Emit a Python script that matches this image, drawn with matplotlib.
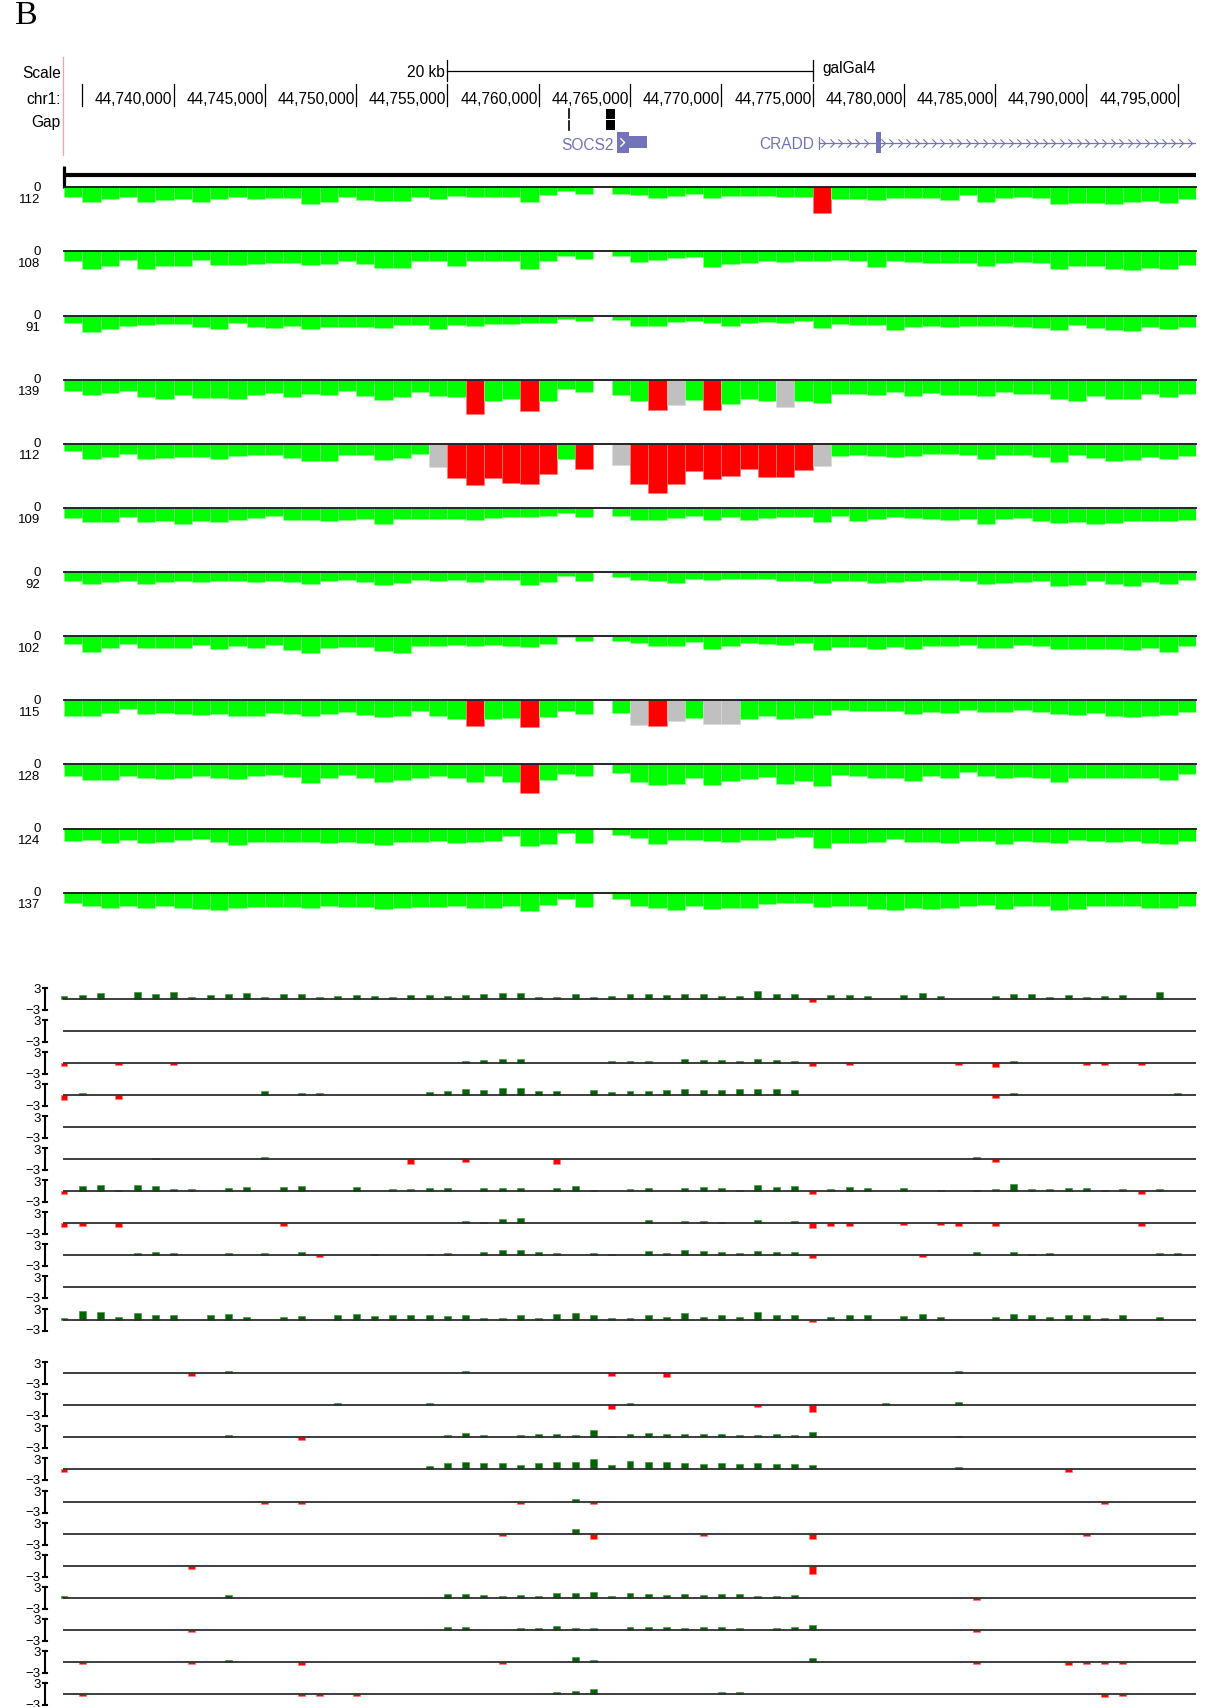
import numpy as np
import matplotlib
matplotlib.use("Agg")
import matplotlib.pyplot as plt
from matplotlib.patches import Rectangle
from matplotlib.path import Path

W, H, DPI = 1208, 1707, 100
NAN = float("nan")

# ---------------- genomic window (kb on chr1) ----------------
VIEW_START, VIEW_END = 44734, 44796
CHROM_TICKS = [44735, 44740, 44745, 44750, 44755, 44760, 44765,
               44770, 44775, 44780, 44785, 44790, 44795]
CHROM_LABELS = ["", "44,740,000", "44,745,000", "44,750,000", "44,755,000",
                "44,760,000", "44,765,000", "44,770,000", "44,775,000",
                "44,780,000", "44,785,000", "44,790,000", "44,795,000"]
SCALE_BAR = (44755, 44775)
SCALE_TEXT = "20 kb"
ASSEMBLY = "galGal4"
GAP_THIN = 44761.68
GAP_BLOCK = (44763.67, 44764.16)
SOCS2_CDS = (44764.31, 44764.94)
SOCS2_UTR = (44764.94, 44765.93)
CRADD_SPAN = (44775.35, 44795.95)
CRADD_EXON = (44778.47, 44778.73)

# ---------------- read-depth tracks (1-kb bins) ----------------
BIN_STARTS = list(range(44734, 44796))
COV_MAX = [112, 108, 91, 139, 112, 109, 92, 102, 115, 128, 124, 137]

COV1 = [10, 15, 12, 9.3, 14.3, 12.7, 12, 15, 11.7, 9.3,
        11.7, 10.7, 10.7, 17, 14.3, 9.3, 12.7, 13.3, 13.3, 10,
        11.7, 8.3, 9.7, 9.7, 9.7, 15, 8, 3.5, 7, NAN,
        6.7, 7.7, 10.3, 9.2, 7.2, 11, 9, 8.7, 8.7, 10,
        10, 25.3, 11.7, 11.7, 12.3, 10.3, 11, 10.7, 12.3, 8,
        14.7, 10.7, 9.3, 11, 16.3, 15.3, 15.3, 17, 14.7, 14,
        15.7, 12]
COV2 = [9.7, 17.3, 14.3, 9, 17.3, 15, 14.3, 9, 13.3, 13.3,
        12.3, 11.3, 12, 13.7, 12.3, 9.7, 12.7, 16.7, 16.7, 10,
        10, 14.7, 10, 10, 10, 17.3, 10, 4.3, 7.8, NAN,
        4.3, 10.7, 8.3, 6.3, 5.5, 15.3, 12.7, 11.7, 9.7, 11,
        9.3, 10, 9, 9.3, 16, 9.3, 11, 11.3, 11.3, 12,
        15, 12, 10.3, 11.3, 17.3, 15, 14.3, 17.3, 18.3, 17,
        18, 13.7]
COV3 = [7.3, 16, 13, 10, 9.7, 8, 8.7, 11.3, 13.3, 7.3,
        11, 12, 10, 13.7, 11.7, 11.3, 11.3, 12.3, 9.7, 9.7,
        13.7, 9, 10, 8, 8, 7.5, 7, 3.7, 5.7, NAN,
        4.3, 10.3, 10.3, 6.7, 5.5, 7.7, 10, 7, 6, 7.7,
        5.7, 12, 8, 9.7, 9.7, 14.7, 11.3, 10.7, 11.7, 10.7,
        10.7, 10.7, 11, 12.3, 14.7, 9.7, 12.3, 14, 15.3, 11.3,
        13.3, 11.3]
COV4 = [11, 15, 13.7, 11.7, 17.7, 19, 15.7, 18.3, 18, 19.7,
        15.7, 13.3, 17.7, 14.3, 15, 11.3, 16.3, 20.7, 17.7, 12.3,
        16.3, 17.7, 34, 21.7, 19, 31.7, 21.8, 9.8, 12.2, NAN,
        15.2, 21, 30, 25.5, 20, 30, 24, 19.3, 21, 27.7,
        21.7, 23.3, 14, 14, 15, 12.7, 16.3, 13.3, 15.7, 15.7,
        16.3, 12.7, 14, 14, 19, 21.3, 16.3, 19.3, 19, 14.7,
        17.7, 14.7]
COV5 = [7, 15.3, 13, 10, 15, 14, 13.3, 13.3, 15, 11.7,
        10.7, 10.7, 14.3, 16.7, 16.7, 11.3, 10.7, 15.7, 14, 10,
        23.3, 33.7, 41.3, 34, 39, 40.5, 29.7, 14.7, 25.5, NAN,
        20.7, 40.5, 49, 39.7, 27, 35.3, 32.3, 25.3, 32.7, 33.3,
        26, 21.7, 11.7, 10.7, 11.7, 13.3, 11.7, 10, 10, 11.3,
        14.7, 11.3, 11.3, 13, 18.3, 11, 13.7, 17.3, 16, 13.3,
        14.7, 12.3]
COV6 = [10, 14, 14, 8.7, 14, 12.7, 16.3, 12.7, 13.7, 12,
        9.7, 7.7, 12, 12, 13, 11.7, 11.3, 15.7, 11.3, 11,
        11, 10.7, 12.3, 10.3, 9.5, 9.2, 8.3, 5.3, 9.3, NAN,
        8, 12, 12.5, 10, 7.7, 11.7, 9.3, 11.7, 10, 8.7,
        8.7, 13.7, 8.3, 13.3, 10.7, 9.3, 9.7, 10.7, 12.3, 10.7,
        16.3, 10.7, 10.3, 12.7, 15, 14.3, 15.7, 15, 13, 12.7,
        12.7, 12.3]
COV7 = [9.3, 12.3, 10.3, 9, 12.3, 9.7, 8.7, 9.7, 9.3, 9.3,
        10.3, 9, 10.3, 11.7, 9.3, 8.3, 10.3, 12.7, 11, 7.7,
        8.7, 8, 10.3, 8.3, 7.7, 12.7, 10.2, 4.2, 9.3, NAN,
        4.7, 7.7, 9, 10.5, 7, 8.3, 6.7, 6.7, 6.7, 9.3,
        8.7, 11, 8.7, 9.3, 10.7, 10.3, 9.3, 7.7, 8, 9,
        12, 10.7, 10, 9.3, 14.3, 12.7, 9, 11.7, 13.7, 10.3,
        11.7, 7.7]
COV8 = [7.7, 15.7, 12, 7.3, 12, 12, 11.3, 9, 12.7, 9.7,
        12, 9, 14, 16.7, 11.3, 10.7, 10.7, 14.3, 17, 9.3,
        10, 8.7, 9.7, 8.3, 10, 11, 7.8, 0.3, 5, NAN,
        4.7, 6.7, 9.8, 10.2, 6, 12.7, 9.7, 6.3, 7.3, 8.3,
        6.7, 14, 10.3, 10.3, 13, 10.3, 12.7, 10, 10, 8.3,
        11.7, 11.7, 9, 10, 12.3, 12.3, 12.7, 13, 13.7, 11.7,
        15.3, 9.3]
COV9 = [16, 16, 12.7, 9, 13.7, 12.7, 13.3, 15, 13.7, 16,
        15.3, 13, 13.7, 16, 13.3, 11.3, 14.3, 16.3, 16, 11,
        16, 18.3, 26, 19, 17.5, 27, 16.5, 10.5, 13.7, NAN,
        12.5, 24.2, 25.7, 20.7, 18, 23.3, 23.3, 18.7, 16, 18.3,
        17.7, 15, 9.3, 11, 10.7, 11, 13.3, 11.7, 12.7, 9.7,
        11.7, 11.7, 10, 11.7, 14, 15, 12.3, 15.7, 16.3, 15.7,
        15, 11.7]
COV10 = [11.3, 15.3, 16, 11.7, 14, 14.7, 13.3, 11.7, 13.3, 15,
         12, 10.7, 12.7, 18.7, 13.3, 10.7, 14, 17.3, 16, 13.3,
         12, 14, 18, 11.3, 18, 29, 16, 9.8, 11.3, NAN,
         8.2, 17.3, 21, 19.3, 14, 20.7, 17, 14.7, 12.3, 19.3,
         16.7, 21.7, 10.7, 12, 14, 14, 16.7, 11.3, 13.3, 8,
         11.3, 13.3, 12.7, 14, 18, 13.3, 13.7, 14, 13.3, 13.3,
         16, 10]
COV11 = [12.7, 11.3, 14.7, 11, 14.7, 13, 11.3, 10.7, 13.3, 16,
         13.7, 13.7, 13.3, 13, 14.3, 13.3, 14.3, 16.7, 13.3, 13,
         12, 14.7, 13.3, 12, 7, 17, 15.7, 4.2, 14.7, NAN,
         6.3, 9.7, 15, 11.8, 11, 12.7, 13.3, 11.7, 11.7, 9.3,
         8.3, 19.3, 14.3, 14.3, 13.3, 10.7, 13.7, 13.7, 14.3, 12.7,
         12.7, 15, 12.7, 13.3, 14.3, 11.7, 12.7, 13.3, 12.7, 14.7,
         15, 12.7]
COV12 = [10.7, 13, 15, 13.7, 15, 13, 15.7, 16, 17, 15,
         14.3, 14.3, 14.3, 15, 13.3, 14, 14, 16.3, 15, 14.3,
         14.3, 13.7, 15, 15.3, 13, 17.8, 12.2, 6.5, 14, NAN,
         5.8, 13.3, 15.5, 17, 13.7, 16.3, 15, 15, 11.7, 10.3,
         10, 14.3, 13.3, 13.3, 16.3, 17, 15.3, 16, 15.7, 13,
         12.3, 16, 13, 13, 17, 16.7, 13.7, 13.3, 13.3, 15,
         15, 13.3]
COV_TRACKS = [COV1, COV2, COV3, COV4, COV5, COV6,
              COV7, COV8, COV9, COV10, COV11, COV12]

# bins called as loss (red) or uncertain (grey), per track
COV_LOSS = [[41], [], [], [22, 25, 32, 35],
            [21, 22, 23, 24, 25, 26, 28, 31, 32, 33, 34, 35, 36, 37, 38, 39, 40],
            [], [], [], [22, 25, 32], [25], [], []]
COV_UNCERTAIN = [[], [], [], [33, 39], [20, 30, 41], [], [], [],
                 [31, 33, 35, 36], [], [], []]

# ---------------- log-ratio tracks (one value per kb) ----------------
LR_POS = list(range(44734, 44796))

A1 = [0.9, 1.2, 1.6, 0, 1.8, 1.45, 1.8, 0.55, 1.2, 1.35,
      1.6, 0.45, 1.35, 1.45, 0.55, 0.9, 1.1, 0.9, 0.65, 1.0,
      1.1, 0.75, 1.2, 1.25, 1.6, 1.55, 0.65, 0.65, 1.35, 0.65,
      0.75, 1.25, 1.35, 1.1, 1.45, 1.35, 0.8, 0.8, 2.3, 1.45,
      1.35, -0.9, 1.0, 1.0, 0.8, 0, 1.0, 1.6, 0.8, 0,
      0, 0.8, 1.35, 1.25, 0.65, 1.1, 0.55, 0.75, 1.1, 0,
      1.8, 0]
A2 = [0, 0, 0, 0, 0, 0, 0, 0, 0, 0,
      0, 0, 0, 0, 0, 0, 0, 0, 0, 0,
      0, 0, 0, 0, 0, 0, 0, 0, 0, 0,
      0, 0, 0, 0, 0, 0, 0, 0, 0, 0,
      0, 0, 0, 0, 0, 0, 0, 0, 0, 0,
      0, 0, 0, 0, 0, 0, 0, 0, 0, 0,
      0, 0]
A3 = [-0.9, 0, 0, -0.55, 0, 0, -0.6, 0, 0, 0,
      0, 0, 0, 0, 0, 0, 0, 0, 0, 0,
      0, 0, 0.7, 0.9, 1.1, 1.25, 0, 0, 0, 0,
      0.55, 0.7, 0.7, 0, 1.0, 0.9, 0.8, 0.55, 1.25, 0.8,
      0.55, -0.9, 0, -0.6, 0, 0, 0, 0, 0, -0.45,
      0, -1.0, 0.65, 0, 0, 0, -0.55, -0.55, 0, -0.55,
      0, 0]
A4 = [-1.35, 0.55, 0, -1.1, 0, 0, 0, 0, 0, 0,
      0, 1.1, 0, 0.55, 0.7, 0, 0, 0, 0, 0,
      0.8, 1.1, 1.6, 1.45, 1.9, 1.9, 1.25, 1.1, 0, 1.45,
      0.9, 1.0, 1.25, 1.45, 1.55, 1.45, 1.45, 1.6, 1.8, 1.55,
      1.35, 0, 0, 0, 0, 0, 0, 0, 0, 0,
      0, -0.7, 0.55, 0, 0, 0, 0, 0, 0, 0,
      0, 0.65]
A5 = [0, 0, 0, 0, 0, 0, 0, 0, 0, 0,
      0, 0, 0, 0, 0, 0, 0, 0, 0, 0,
      0, 0, 0, 0, 0, 0, 0, 0, 0, 0,
      0, 0, 0, 0, 0, 0, 0, 0, 0, 0,
      0, 0, 0, 0, 0, 0, 0, 0, 0, 0,
      0, 0, 0, 0, 0, 0, 0, 0, 0, 0,
      0, 0]
A6 = [0, 0, 0, 0, 0, 0.45, 0, 0, 0, 0,
      0, 0.7, 0, 0, 0, 0, 0, 0, 0, -1.35,
      0, 0, -0.65, 0, 0, 0, 0, -1.2, 0, 0,
      0, 0, 0, 0, 0, 0, 0, 0, 0, 0,
      0, 0, 0, 0, 0, 0, 0, 0, 0, 0,
      0.7, -0.7, 0, 0, 0, 0, 0, 0, 0, 0,
      0, 0]
A7 = [-0.6, 1.55, 1.6, 0.45, 1.8, 1.45, 0.55, 0.55, 0, 1.0,
      1.25, 0, 1.1, 1.55, 0, 0, 1.2, 0, 0.55, 0.65,
      0.9, 0.9, 0, 1.0, 1.0, 1.0, 0, 0.8, 1.35, 0.35,
      0, 0.7, 0.8, 0, 0.9, 1.1, 1.0, 0.35, 1.8, 1.1,
      1.35, -0.6, 0.55, 1.25, 0.9, 0, 1.0, 0, 0.45, 0,
      0.35, 0.55, 1.9, 0.7, 0.55, 0.8, 0.8, 0.45, 0.7, -0.6,
      0.7, 0]
A8 = [-1.0, -0.7, 0, -0.9, 0, 0, 0, 0, 0, 0,
      0, 0, -0.7, 0, 0, 0, 0, 0, 0, 0,
      0, 0, 0.65, 0.45, 1.1, 1.45, 0, 0, 0, 0,
      0, 0, 0.8, 0, 0.7, 0.55, 0.45, 0, 1.0, 0,
      0.55, -1.2, -0.65, -0.8, 0, 0, -0.55, 0, -0.55, -0.7,
      0, -0.8, 0, 0, 0, 0, 0, 0, 0, -0.65,
      0, 0]
A9 = [0, 0, 0, 0, 0.65, 0.8, 0.55, 0, 0, 0.7,
      0, 0.65, 0, 0.8, -0.55, 0, 0, 0.35, 0, 0,
      0.45, 0.65, 0, 0.9, 1.35, 1.55, 0.8, 0.7, 0, 0.55,
      0.45, 0, 1.2, 0.7, 1.35, 1.25, 0.9, 0.65, 1.25, 0.8,
      0.9, -0.65, 0, 0, 0, 0, 0, -0.55, 0, 0,
      1.0, 0, 1.0, 0.45, 0.65, 0, 0, 0, 0, 0,
      0.65, 0.7]
A10 = [0, 0, 0, 0, 0, 0, 0, 0, 0, 0,
       0, 0, 0, 0, 0, 0, 0, 0, 0, 0,
       0, 0, 0, 0, 0, 0, 0, 0, 0, 0,
       0, 0, 0, 0, 0, 0, 0, 0, 0, 0,
       0, 0, 0, 0, 0, 0, 0, 0, 0, 0,
       0, 0, 0, 0, 0, 0, 0, 0, 0, 0,
       0, 0]
A11 = [0.45, 2.2, 2.1, 0.7, 1.9, 1.35, 1.2, 0, 1.1, 1.45,
       0.7, 0, 0.7, 1.0, 0, 1.2, 1.6, 0.9, 1.1, 1.25,
       1.1, 0.9, 1.25, 0.45, 0.45, 1.35, 0.45, 1.55, 1.9, 1.1,
       0.45, 0.45, 1.1, 0.7, 1.8, 0.65, 1.35, 0.7, 2.1, 1.2,
       1.2, -0.65, 0.65, 1.25, 1.25, 0, 0.9, 1.45, 0.8, 0,
       0, 0.65, 1.55, 1.1, 0.7, 1.35, 1.2, 0.35, 1.2, 0,
       0.8, 0]

B1 = [0, 0, 0, 0, 0, 0, 0, -0.65, 0, 0.55,
      0, 0, 0, 0, 0, 0, 0, 0, 0, 0,
      0, 0, 0.55, 0, 0, 0, 0, 0, 0, 0,
      -0.65, 0, 0, -0.9, 0, 0, 0, 0, 0, 0,
      0, 0, 0, 0, 0, 0, 0, 0, 0, 0.55,
      0, 0, 0, 0, 0, 0, 0, 0, 0, 0,
      0, 0]
B2 = [0, 0, 0, 0, 0, 0, 0, 0, 0, 0,
      0, 0, 0, 0, 0, 0.55, 0, 0, 0, 0,
      0.55, 0, 0, 0, 0, 0, 0, 0, 0, 0,
      -1.0, 0.55, 0, 0, 0, 0, 0, 0, -0.45, 0,
      0, -1.9, 0, 0, 0, 0.7, 0, 0, 0, 0.8,
      0, 0, 0, 0, 0, 0, 0, 0, 0, 0,
      0, 0]
B3 = [0, 0, 0, 0, 0, 0, 0, 0, 0, 0.7,
      0, 0, 0, -0.65, 0, 0, 0, 0, 0, 0,
      0, 0.55, 1.25, 0.7, 0, 0.55, 0.8, 0.9, 0.7, 2.0,
      0.45, 0.9, 1.1, 0.8, 0.8, 1.0, 0.8, 0.7, 0.7, 0.9,
      0.7, 1.35, 0, 0, 0, 0, 0, 0, 0, 0.45,
      0, 0, 0, 0, 0, 0, 0, 0, 0, 0,
      0, 0]
B4 = [-0.65, 0, 0, 0, 0, 0, 0, 0, 0, 0,
      0, 0, 0, 0, 0, 0, 0, 0, 0, 0,
      1.0, 1.7, 1.9, 1.65, 1.7, 1.35, 1.65, 2.0, 1.9, 2.8,
      1.2, 2.2, 2.0, 1.9, 1.65, 1.45, 1.65, 1.45, 1.7, 1.55,
      1.45, 1.2, 0, 0, 0, 0, 0, 0, 0, 0.55,
      0, 0, 0, 0, 0, -0.65, 0, 0, 0, 0,
      0, 0]
B5 = [0, 0, 0, 0, 0, 0, 0, 0, 0, 0,
      0, -0.65, 0, -0.55, 0, 0, 0, 0, 0, 0,
      0, 0, 0, 0, 0, -0.65, 0, 0, 0.65, -0.65,
      0, 0, 0, 0, 0, 0, 0, 0, 0, 0,
      0, 0, 0, 0, 0, 0, 0, 0, 0, 0,
      0, 0, 0, 0, 0, 0, 0, -0.55, 0, 0,
      0, 0]
B6 = [0, 0, 0, 0, 0, 0, 0, 0, 0, 0,
      0, 0, 0, 0, 0, 0, 0, 0, 0, 0,
      0, 0, 0, 0, -0.55, 0, 0, 0, 1.2, -1.55,
      0, 0, 0, 0, 0, -0.55, 0, 0, 0, 0,
      0, -1.55, 0, 0, 0, 0, 0, 0, 0, 0,
      0, 0, 0, 0, 0, 0, -0.7, 0, 0, 0,
      0, 0]
B7 = [0, 0, 0, 0, 0, 0, 0, -0.8, 0, 0,
      0, 0, 0, 0, 0, 0, 0, 0, 0, 0,
      0, 0, 0, 0, 0, 0, 0, 0, 0, 0,
      0, 0, 0, 0, 0, 0, 0, 0, 0, 0,
      0, -2.2, 0, 0, 0, 0, 0, 0, 0, 0,
      0, 0, 0, 0, 0, 0, 0, 0, 0, 0,
      0, 0]
B8 = [0.45, 0, 0, 0, 0, 0, 0, 0, 0, 0.65,
      0, 0, 0, 0, 0, 0, 0, 0, 0, 0,
      0, 0.9, 1.1, 0.75, 0.45, 0.65, 0.55, 1.25, 1.2, 1.65,
      0.45, 1.25, 1.0, 0.75, 1.0, 0.65, 1.1, 0.9, 0.55, 0.55,
      0.75, 0, 0, 0, 0, 0, 0, 0, 0, 0,
      -0.65, 0, 0, 0, 0, 0, 0, 0, 0, 0,
      0, 0]
B9 = [0, 0, 0, 0, 0, 0, 0, -0.65, 0, 0,
      0, 0, 0, 0, 0, 0, 0, 0, 0, 0,
      0, 0.65, 0.65, 0, 0, 0.55, 0.55, 1.0, 0.45, 0.35,
      0, 0.8, 0.7, 0.65, 0.45, 0.65, 0.65, 0.55, 0, 0.55,
      0.8, 1.25, 0, 0, 0, 0, 0, 0, 0, 0,
      -0.7, 0, 0, 0, 0, 0, 0, 0, 0, 0,
      0, 0]
B10 = [0, -0.65, 0, 0, 0, 0, 0, -0.65, 0, 0.45,
       0, 0, 0, -0.8, 0, 0, 0, 0, 0, 0,
       0, 0, 0, 0, -0.65, 0, 0, 0, 1.25, 0.45,
       0, 0, 0, 0, 0, 0, 0, 0, 0, 0,
       0, 1.0, 0, 0, 0, 0, 0, 0, 0, 0,
       -0.55, 0, 0, 0, 0, -0.8, -0.55, -0.7, -0.55, 0,
       0, 0]
B11 = [0, -0.55, 0, 0, 0, 0, 0, 0, 0, 0,
       0, 0, 0, -0.55, -0.55, 0, -0.7, 0, 0, 0,
       0, 0, 0, 0, 0, 0, 0, 0.45, 0.9, 1.2,
       0, 0, 0, 0, 0, 0, 0.45, 0.45, 0, 0,
       0, 0, 0, 0, 0, 0, 0, 0, 0, 0,
       0, 0, 0, 0, 0, 0, 0, -0.8, -0.55, 0,
       0, 0]
LR_GROUP_A = [A1, A2, A3, A4, A5, A6, A7, A8, A9, A10, A11]
LR_GROUP_B = [B1, B2, B3, B4, B5, B6, B7, B8, B9, B10, B11]

# ---------------- styling ----------------
SANS = ["Liberation Sans", "DejaVu Sans"]
SERIF = ["Liberation Serif", "DejaVu Serif"]
GENE_BLUE = "#7373ba"
COV_GREEN, COV_RED, COV_GREY = "#00ff00", "#ff0000", "#c0c0c0"
LR_GREEN, LR_RED = "#006400", "#ff0000"
FS_HEAD, FS_COORD, FS_TRACK = 11.2, 11.2, 9.5

X0_PX, X1_PX = 64, 1196
COV_TOP0, COV_STEP, COV_DEPTH = 187.3, 64.13, 52
LR_BASE_A, LR_BASE_B, LR_STEP, LR_HALF = 999.0, 1373.3, 32.05, 11.0

fig = plt.figure(figsize=(W / DPI, H / DPI), dpi=DPI)
fig.patch.set_facecolor("white")


def px_axes(x0, y0, x1, y1):
    ax = fig.add_axes([x0 / W, 1 - y1 / H, (x1 - x0) / W, (y1 - y0) / H])
    ax.set_axis_off()
    return ax


def ftext(x, y, s, size, ha="right", color="black", family=SANS, **kw):
    return fig.text(x / W, 1 - y / H, s, fontsize=size, ha=ha, va="baseline",
                    color=color, family=family, **kw)


# ---------------- panel letter ----------------
ftext(15, 24, "B", 24.5, ha="left", family=SERIF)

# ---------------- header: ruler, gaps and genes ----------------
hdr = px_axes(X0_PX, 50, X1_PX, 190)
hdr.set_xlim(VIEW_START, VIEW_END)
hdr.set_ylim(190, 50)

ftext(61, 78, "Scale", FS_HEAD)
ftext(61, 104.5, "chr1:", FS_HEAD)
ftext(61, 126.5, "Gap", FS_HEAD)

# scale bar
hdr.plot(SCALE_BAR, [70.5, 70.5], color="black", lw=0.9)
for x in SCALE_BAR:
    hdr.plot([x, x], [60, 81], color="black", lw=0.9)
hdr.text(SCALE_BAR[0] - 0.12, 77, SCALE_TEXT, ha="right", va="baseline",
         fontsize=FS_HEAD, family=SANS)
hdr.text(SCALE_BAR[1] + 0.53, 73, ASSEMBLY, ha="left", va="baseline",
         fontsize=FS_HEAD, family=SANS)

# chromosome coordinate ticks
for pos, lab in zip(CHROM_TICKS, CHROM_LABELS):
    hdr.plot([pos, pos], [84, 106], color="black", lw=0.9)
    if lab:
        hdr.text(pos - 0.06, 104.5, lab, ha="right", va="baseline",
                 fontsize=FS_COORD, family=SANS)

# assembly gaps
hdr.plot([GAP_THIN, GAP_THIN], [109, 118.3], color="black", lw=1.2)
hdr.plot([GAP_THIN, GAP_THIN], [120.7, 130], color="black", lw=1.2)
gw = GAP_BLOCK[1] - GAP_BLOCK[0]
hdr.add_patch(Rectangle((GAP_BLOCK[0], 109), gw, 10, color="black", lw=0))
hdr.add_patch(Rectangle((GAP_BLOCK[0], 120.2), gw, 9.3, color="black", lw=0))

# SOCS2
hdr.add_patch(Rectangle((SOCS2_CDS[0], 132), SOCS2_CDS[1] - SOCS2_CDS[0], 20.5,
                        color=GENE_BLUE, lw=0))
hdr.add_patch(Rectangle((SOCS2_UTR[0], 135.5), SOCS2_UTR[1] - SOCS2_UTR[0], 12.5,
                        color=GENE_BLUE, lw=0))
chev = Path([(-0.5, 1.0), (0.5, 0.0), (-0.5, -1.0)],
            [Path.MOVETO, Path.LINETO, Path.LINETO])
hdr.plot([SOCS2_CDS[0] + 0.26], [142.2], marker=chev, ms=6, mfc="none",
         mec="white", mew=1.0, ls="none")
hdr.text(SOCS2_CDS[0] - 0.22, 149.5, "SOCS2", ha="right", va="baseline",
         fontsize=FS_HEAD, family=SANS, color=GENE_BLUE)

# CRADD
hdr.plot(CRADD_SPAN, [142.7, 142.7], color=GENE_BLUE, lw=0.9)
hdr.plot([CRADD_SPAN[0], CRADD_SPAN[0]], [137, 148.5], color=GENE_BLUE, lw=0.9)
hdr.add_patch(Rectangle((CRADD_EXON[0], 131.7), CRADD_EXON[1] - CRADD_EXON[0], 21.6,
                        color=GENE_BLUE, lw=0))
chev_x = np.arange(CRADD_SPAN[0] + 0.22, CRADD_SPAN[1] - 0.1, 0.467)
chev_x = chev_x[(chev_x < CRADD_EXON[0] - 0.1) | (chev_x > CRADD_EXON[1] + 0.1)]
hdr.plot(chev_x, np.full(chev_x.size, 142.7), marker=chev, ms=6, mfc="none",
         mec=GENE_BLUE, mew=0.8, ls="none")
hdr.text(CRADD_SPAN[0] - 0.25, 149, "CRADD", ha="right", va="baseline",
         fontsize=FS_HEAD, family=SANS, color=GENE_BLUE)

# label separator and track-group bracket
hdr.plot([VIEW_START - 0.045] * 2, [57, 155], color="#f2a3a3", lw=0.9, clip_on=False)
hdr.plot([VIEW_START, VIEW_END], [175.3, 175.3], color="black", lw=3.0,
         solid_capstyle="butt", clip_on=False)
hdr.plot([VIEW_START, VIEW_START], [166, 187.5], color="black", lw=2.3,
         solid_capstyle="butt", clip_on=False)

# ---------------- read-depth tracks ----------------
bin_starts = np.array(BIN_STARTS, float)
for k, depth_list in enumerate(COV_TRACKS):
    top = COV_TOP0 + k * COV_STEP
    ax = px_axes(X0_PX, top, X1_PX, top + COV_DEPTH)
    ax.set_xlim(VIEW_START, VIEW_END)
    ax.set_ylim(COV_DEPTH, 0)
    depth = np.array(depth_list, float)
    face, edge = [], []
    for i in range(depth.size):
        if i in COV_LOSS[k]:
            face.append(COV_RED); edge.append("#ff7a7a")
        elif i in COV_UNCERTAIN[k]:
            face.append(COV_GREY); edge.append("#dadada")
        else:
            face.append(COV_GREEN); edge.append("#8dff8d")
    ok = ~np.isnan(depth)
    ax.bar(bin_starts[ok], depth[ok], width=1.0, align="edge",
           color=[f for f, m in zip(face, ok) if m],
           edgecolor=[e for e, m in zip(edge, ok) if m], linewidth=0.45, zorder=2)
    ax.axhline(0, color="#1c1c1c", lw=1.35, zorder=3, clip_on=False)
    ftext(40.5, top + 3.5, "0", FS_TRACK)
    ftext(40.5, top + 15.5, str(COV_MAX[k]), FS_TRACK)

# ---------------- log-ratio tracks ----------------
lr_pos = np.array(LR_POS, float)
beam_x = (45 - X0_PX) / (X1_PX - X0_PX)
serif = 1.8 / (X1_PX - X0_PX)


def log_ratio_track(base, values):
    ax = px_axes(X0_PX, base - LR_HALF, X1_PX, base + LR_HALF)
    ax.set_xlim(VIEW_START, VIEW_END)
    ax.set_ylim(-3, 3)
    v = np.array(values, float)
    nz = v != 0
    cols = [LR_GREEN if x > 0 else LR_RED for x in v[nz]]
    edges = ["#4f8f4f" if x > 0 else "#ff7d7d" for x in v[nz]]
    ax.bar(lr_pos[nz], v[nz], width=0.38, color=cols, edgecolor=edges,
           linewidth=0.5, zorder=2, clip_on=False)
    ax.plot([VIEW_START - 0.05, VIEW_END], [0, 0], color="#2e2e2e", lw=1.3,
            zorder=3, clip_on=False, solid_capstyle="butt")
    tr = ax.get_yaxis_transform()
    ax.plot([beam_x, beam_x], [-3, 3], transform=tr, color="black", lw=1.5,
            clip_on=False)
    for yv in (-3, 3):
        ax.plot([beam_x - serif, beam_x + serif], [yv, yv], transform=tr,
                color="black", lw=1.5, clip_on=False)
    ftext(40.5, base - 5.7, "3", FS_TRACK)
    ftext(40.5, base + 15.0, "\u22123", FS_TRACK)


for r, vals in enumerate(LR_GROUP_A):
    log_ratio_track(LR_BASE_A + r * LR_STEP, vals)
for r, vals in enumerate(LR_GROUP_B):
    log_ratio_track(LR_BASE_B + r * LR_STEP, vals)

fig.savefig("out.png", dpi=DPI, facecolor="white")
